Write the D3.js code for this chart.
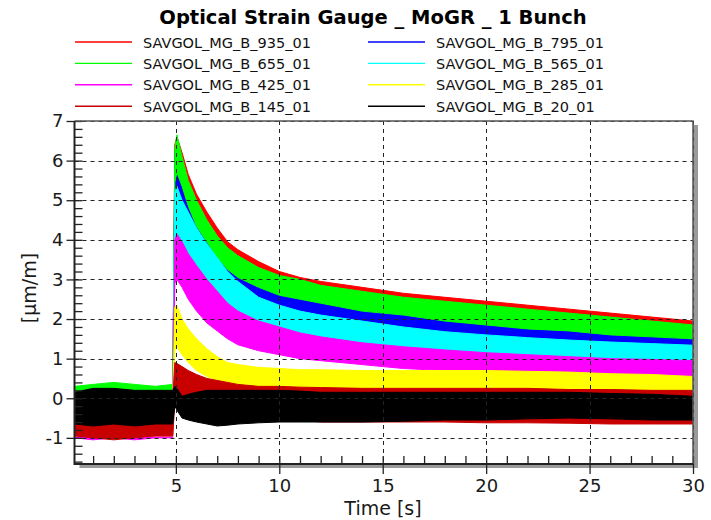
<!DOCTYPE html>
<html>
<head>
<meta charset="utf-8">
<script src="https://cdn.jsdelivr.net/npm/d3@7"></script>
<style>
  body { margin: 0; background: #fff; }
  svg { display: block; font-family: "DejaVu Sans", Verdana, sans-serif; }
</style>
</head>
<body>
<div id="chart"></div>
<script>
/* global d3 */

var timeKnots = [0.1, 1, 2, 3, 4, 4.85, 4.95, 5.05, 5.3, 5.6, 6, 6.5, 7, 7.5, 8, 9, 10, 11, 12, 14, 16, 18, 20, 22, 24, 26, 28, 30];

var seriesNames = ['SAVGOL_MG_B_935_01', 'SAVGOL_MG_B_795_01', 'SAVGOL_MG_B_655_01', 'SAVGOL_MG_B_565_01',
  'SAVGOL_MG_B_425_01', 'SAVGOL_MG_B_285_01', 'SAVGOL_MG_B_145_01', 'SAVGOL_MG_B_20_01'];
var seriesColors = ['#ff0000', '#0000ff', '#00ff00', '#00ffff', '#ff00ff', '#ffff00', '#c80000', '#000000'];

// upper / lower edge of each trace's noise band [µm/m]
var hi935 = [0.2, 0.25, 0.25, 0.2, 0.2, 0.25, 6.4, 6.6, 6.2, 5.65, 5.15, 4.7, 4.3, 3.95, 3.75, 3.45, 3.2, 3.05, 2.95, 2.8, 2.65, 2.55, 2.45, 2.35, 2.25, 2.15, 2.05, 1.95];
var lo935 = [-0.75, -0.8, -0.75, -0.8, -0.75, -0.75, 5.3, 5.5, 5.1, 4.6, 4.1, 3.7, 3.3, 3.0, 2.85, 2.6, 2.4, 2.3, 2.2, 2.0, 1.9, 1.75, 1.65, 1.55, 1.5, 1.4, 1.35, 1.3];
var hi795 = [0.1, 0.1, 0.15, 0.1, 0.1, 0.1, 6.2, 6.5, 6.0, 5.35, 4.85, 4.35, 3.95, 3.65, 3.45, 3.15, 2.95, 2.85, 2.7, 2.55, 2.4, 2.3, 2.2, 2.1, 2.0, 1.9, 1.8, 1.75];
var lo795 = [-0.9, -0.9, -0.95, -0.9, -0.9, -0.9, 5.1, 5.4, 5.0, 4.4, 3.9, 3.5, 3.2, 2.95, 2.8, 2.5, 2.3, 2.15, 2.05, 1.85, 1.7, 1.55, 1.45, 1.35, 1.25, 1.2, 1.15, 1.1];
var hi655 = [0.3, 0.35, 0.4, 0.35, 0.3, 0.35, 6.3, 6.65, 6.1, 5.5, 5.0, 4.5, 4.1, 3.8, 3.6, 3.3, 3.1, 3.0, 2.85, 2.7, 2.55, 2.45, 2.35, 2.25, 2.15, 2.05, 1.95, 1.85];
var lo655 = [-0.45, -0.5, -0.45, -0.5, -0.45, -0.45, 5.45, 5.7, 5.35, 4.85, 4.35, 3.95, 3.55, 3.25, 3.05, 2.8, 2.6, 2.5, 2.4, 2.2, 2.1, 1.95, 1.85, 1.75, 1.7, 1.6, 1.55, 1.5];
var hi565 = [0.0, 0.05, 0.0, 0.05, 0.0, 0.0, 5.2, 5.35, 5.0, 4.7, 4.3, 3.9, 3.55, 3.2, 2.95, 2.55, 2.35, 2.2, 2.1, 1.95, 1.8, 1.68, 1.6, 1.53, 1.47, 1.42, 1.38, 1.34];
var lo565 = [-0.9, -0.95, -0.9, -0.95, -0.9, -0.9, 4.0, 4.2, 3.9, 3.5, 3.1, 2.7, 2.4, 2.2, 2.0, 1.8, 1.65, 1.5, 1.4, 1.3, 1.2, 1.1, 1.05, 1.0, 0.95, 0.9, 0.85, 0.8];
var hi425 = [-0.1, -0.1, -0.05, -0.1, -0.1, -0.1, 4.0, 4.15, 3.95, 3.65, 3.35, 3.0, 2.7, 2.4, 2.2, 1.95, 1.8, 1.65, 1.55, 1.4, 1.3, 1.22, 1.15, 1.1, 1.05, 1.0, 0.98, 0.95];
var lo425 = [-1.0, -1.05, -1.0, -1.05, -1.0, -1.0, 2.9, 3.0, 2.8, 2.5, 2.2, 1.9, 1.7, 1.5, 1.35, 1.2, 1.1, 1.0, 0.95, 0.85, 0.75, 0.7, 0.65, 0.62, 0.6, 0.57, 0.55, 0.52];
var hi285 = [-0.15, -0.1, -0.15, -0.1, -0.15, -0.1, 2.3, 2.35, 2.0, 1.75, 1.5, 1.25, 1.05, 0.9, 0.85, 0.78, 0.75, 0.72, 0.72, 0.7, 0.7, 0.7, 0.7, 0.68, 0.66, 0.62, 0.6, 0.55];
var lo285 = [-0.95, -0.95, -0.9, -0.95, -0.95, -0.95, 1.2, 1.3, 1.1, 0.9, 0.7, 0.55, 0.45, 0.35, 0.3, 0.25, 0.2, 0.18, 0.15, 0.12, 0.1, 0.1, 0.1, 0.08, 0.07, 0.06, 0.05, 0.03];
var hi145 = [0.0, 0.05, 0.0, 0.0, 0.05, 0.0, 0.9, 0.88, 0.8, 0.7, 0.6, 0.5, 0.45, 0.4, 0.35, 0.3, 0.3, 0.28, 0.27, 0.25, 0.25, 0.25, 0.25, 0.25, 0.22, 0.22, 0.2, 0.2];
var lo145 = [-0.95, -1.0, -1.05, -1.0, -0.95, -0.95, -0.1, 0.0, -0.1, -0.2, -0.3, -0.35, -0.4, -0.45, -0.5, -0.5, -0.55, -0.55, -0.6, -0.6, -0.6, -0.6, -0.62, -0.62, -0.63, -0.65, -0.65, -0.65];
var hi20 = [0.15, 0.25, 0.25, 0.2, 0.2, 0.2, 0.3, 0.25, 0.05, 0.1, 0.15, 0.2, 0.2, 0.2, 0.2, 0.2, 0.2, 0.18, 0.15, 0.15, 0.15, 0.15, 0.15, 0.15, 0.15, 0.12, 0.1, 0.05];
var lo20 = [-0.65, -0.7, -0.65, -0.7, -0.65, -0.65, -0.2, -0.3, -0.5, -0.55, -0.6, -0.65, -0.7, -0.68, -0.65, -0.62, -0.6, -0.6, -0.6, -0.6, -0.58, -0.55, -0.55, -0.52, -0.5, -0.52, -0.55, -0.55];

var xMajorTicks = [5, 10, 15, 20, 25, 30];
var yMajorTicks = [-1, 0, 1, 2, 3, 4, 5, 6, 7];

var chart = {};
chart.WIDTH = 711;
chart.HEIGHT = 520;
chart.left = 74.5;
chart.right = 693;
chart.top = 121;
chart.bottom = 464;

chart.draw = function() {
  'use strict';

  var his = [hi935, hi795, hi655, hi565, hi425, hi285, hi145, hi20];
  var los = [lo935, lo795, lo655, lo565, lo425, lo285, lo145, lo20];

  var x = d3.scaleLinear().domain([0.1, 30]).range([chart.left, chart.right]);
  var y = d3.scaleLinear().domain([-1.66, 7]).range([chart.bottom, chart.top]);

  var svg = d3.select('#chart').append('svg')
    .attr('width', chart.WIDTH)
    .attr('height', chart.HEIGHT);

  // title
  svg.append('text')
    .attr('x', 373)
    .attr('y', 24)
    .attr('text-anchor', 'middle')
    .attr('font-size', '19.5px')
    .attr('font-weight', 'bold')
    .attr('fill', '#000')
    .text('Optical Strain Gauge _ MoGR _ 1 Bunch');

  // legend, two columns
  var legend = svg.append('g');
  seriesNames.forEach(function(name, i) {
    var col = i % 2;
    var row = Math.floor(i / 2);
    var lx = col === 0 ? 75 : 368;
    var ly = 42 + row * 21.4;
    legend.append('line')
      .attr('x1', lx).attr('x2', lx + 57)
      .attr('y1', ly).attr('y2', ly)
      .attr('stroke', seriesColors[i])
      .attr('stroke-width', 1.4);
    legend.append('text')
      .attr('x', lx + 68)
      .attr('y', ly + 5.5)
      .attr('font-size', '14.5px')
      .attr('fill', '#111')
      .text(name);
  });

  // drop shadow of the frame, then the white plot area
  svg.append('rect')
    .attr('x', chart.left + 5).attr('y', chart.top + 4)
    .attr('width', chart.right - chart.left).attr('height', chart.bottom - chart.top)
    .attr('fill', '#9a9a9a');
  svg.append('rect')
    .attr('x', chart.left).attr('y', chart.top)
    .attr('width', chart.right - chart.left).attr('height', chart.bottom - chart.top)
    .attr('fill', '#fff');

  svg.append('clipPath').attr('id', 'plot-clip')
    .append('rect')
    .attr('x', chart.left).attr('y', chart.top)
    .attr('width', chart.right - chart.left).attr('height', chart.bottom - chart.top);

  // noise bands, drawn in legend order so later traces sit on top
  var band = d3.area()
    .x(function(d) { return x(d.t); })
    .y0(function(d) { return y(d.lo); })
    .y1(function(d) { return y(d.hi); });

  var traces = svg.append('g').attr('clip-path', 'url(#plot-clip)');
  seriesNames.forEach(function(name, i) {
    var pts = timeKnots.map(function(t, k) {
      return { t: t, hi: his[i][k], lo: los[i][k] };
    });
    traces.append('path')
      .datum(pts)
      .attr('d', band)
      .attr('fill', seriesColors[i])
      .attr('stroke', seriesColors[i])
      .attr('stroke-width', 1);
  });

  // dashed grid
  var grid = svg.append('g')
    .attr('stroke', '#222')
    .attr('stroke-width', 1)
    .attr('stroke-dasharray', '4,4');
  grid.selectAll('.gx').data(xMajorTicks).enter().append('line')
    .attr('x1', function(d) { return Math.round(x(d)) + 0.5; })
    .attr('x2', function(d) { return Math.round(x(d)) + 0.5; })
    .attr('y1', chart.top).attr('y2', chart.bottom);
  grid.selectAll('.gy').data(yMajorTicks).enter().append('line')
    .attr('y1', function(d) { return Math.round(y(d)) + 0.5; })
    .attr('y2', function(d) { return Math.round(y(d)) + 0.5; })
    .attr('x1', chart.left).attr('x2', chart.right);

  // axes
  var yMinor = d3.range(-8, 36).map(function(i) { return i / 5; });
  var xMinor = d3.range(1, 31);

  var gyMinor = svg.append('g')
    .attr('transform', 'translate(' + chart.left + ',0)')
    .call(d3.axisRight(y).tickValues(yMinor).tickSize(8).tickFormat(''));
  var gyMajor = svg.append('g')
    .attr('transform', 'translate(' + chart.left + ',0)')
    .call(d3.axisLeft(y).tickValues(yMajorTicks).tickSize(8).tickPadding(3)
      .tickFormat(function(d) { return String(d); }));
  var gxMinor = svg.append('g')
    .attr('transform', 'translate(0,' + chart.bottom + ')')
    .call(d3.axisTop(x).tickValues(xMinor).tickSize(8).tickFormat(''));
  var gxMajor = svg.append('g')
    .attr('transform', 'translate(0,' + chart.bottom + ')')
    .call(d3.axisBottom(x).tickValues(xMajorTicks).tickSize(10).tickPadding(5));

  [gyMinor, gyMajor, gxMinor, gxMajor].forEach(function(g) {
    g.select('.domain').remove();
    g.selectAll('.tick line').attr('stroke', '#222').attr('stroke-width', 1.3);
    g.selectAll('.tick text')
      .attr('font-family', '"DejaVu Sans", Verdana, sans-serif')
      .attr('font-size', '18px')
      .attr('fill', '#1a1a1a');
  });

  // frame: light top/right edges, heavier left/bottom axes
  svg.append('path')
    .attr('d', 'M' + chart.left + ',' + chart.top + 'H' + chart.right + 'V' + chart.bottom)
    .attr('fill', 'none').attr('stroke', '#555').attr('stroke-width', 1.5);
  svg.append('path')
    .attr('d', 'M' + chart.left + ',' + chart.top + 'V' + chart.bottom + 'H' + chart.right)
    .attr('fill', 'none').attr('stroke', '#222').attr('stroke-width', 2);

  // axis titles
  svg.append('text')
    .attr('x', 383)
    .attr('y', 515)
    .attr('text-anchor', 'middle')
    .attr('font-size', '19px')
    .attr('fill', '#1a1a1a')
    .text('Time [s]');
  svg.append('text')
    .attr('transform', 'translate(36,288) rotate(-90)')
    .attr('text-anchor', 'middle')
    .attr('font-size', '19px')
    .attr('fill', '#1a1a1a')
    .text('[µm/m]');
};

chart.draw();
</script>
</body>
</html>
